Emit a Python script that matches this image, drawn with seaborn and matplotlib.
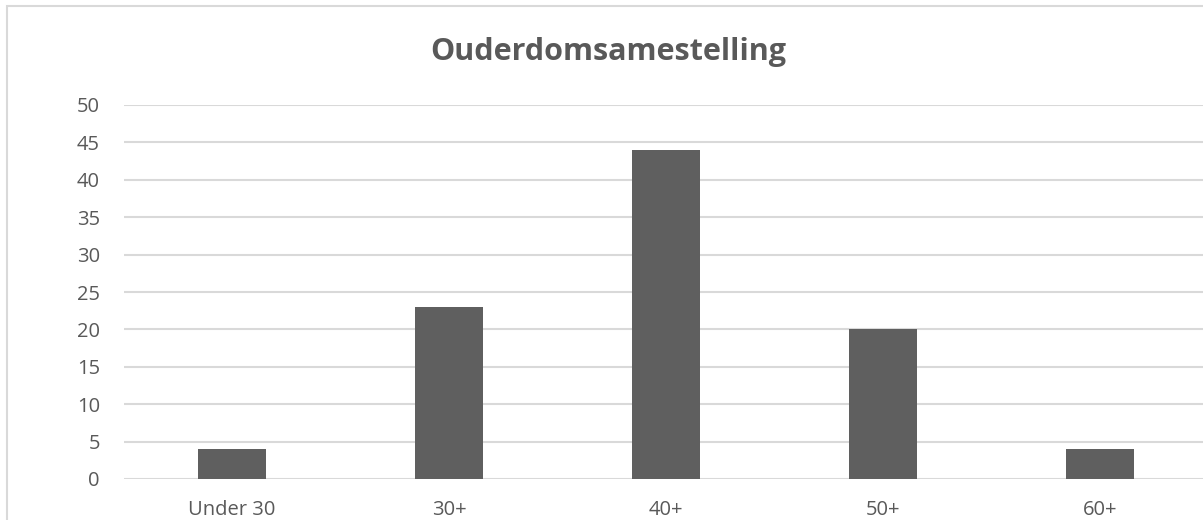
import pandas as pd
import matplotlib.pyplot as plt
import matplotlib.patches as mpatches
import seaborn as sns

# leeftijdsgroepen en aantallen
groepen = ["Under 30", "30+", "40+", "50+", "60+"]
aantallen = [4, 23, 44, 20, 4]

sns.set_style("white")
plt.rcParams['font.family'] = ['Open Sans', 'DejaVu Sans']
grey_txt = "#595959"

df = pd.DataFrame({'Groep': groepen, 'Aantal': aantallen})

W, H = 1203, 520
fig = plt.figure(figsize=(W / 100, H / 100), dpi=100)
ax = fig.add_axes([123.5 / W, (H - 479) / H, 1085 / W, 374 / H])

sns.barplot(data=df, x='Groep', y='Aantal', color="#5f5f5f", width=0.313,
            saturation=1, linewidth=0, ax=ax, zorder=3)

ax.set_ylim(0, 50)
ax.set_xlim(-0.5, 4.5)
ax.set_yticks(range(0, 51, 5))
ax.yaxis.grid(True, color="#d9d9d9", linewidth=1.5, zorder=0)
ax.set_axisbelow(True)
for s in ax.spines.values():
    s.set_visible(False)
ax.set_xlabel("")
ax.set_ylabel("")
ax.tick_params(axis='y', length=0, pad=17, labelsize=14.5, labelcolor=grey_txt)
ax.tick_params(axis='x', length=0, pad=15, labelsize=14.5, labelcolor=grey_txt)

fig.text(608 / W, (H - 52) / H, "Ouderdomsamestelling", ha='center', va='center',
         fontsize=22, fontweight='bold', color=grey_txt)

# rand om de grafiek
rand = mpatches.Rectangle((7 / W, -0.1), 1.2, (H - 6) / H + 0.1,
                          transform=fig.transFigure, fill=False,
                          edgecolor="#d9d9d9", linewidth=1.5)
fig.patches.append(rand)

fig.savefig("out.png", dpi=100)
